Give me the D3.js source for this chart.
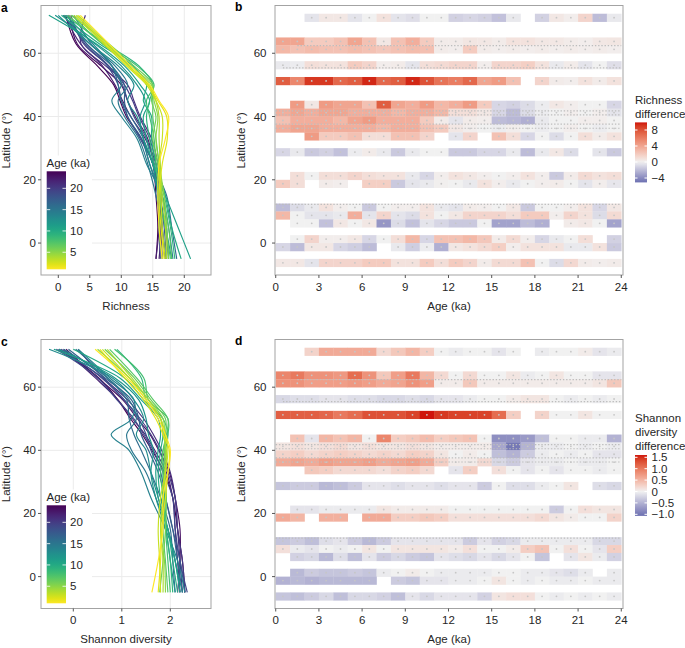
<!DOCTYPE html>
<html><head><meta charset="utf-8">
<script src="https://cdn.jsdelivr.net/npm/d3@7"></script>
<style>body{margin:0;background:#fff}svg{display:block}text{font-family:"Liberation Sans",Arial,Helvetica,sans-serif}</style>
</head><body><svg id="chart" width="685" height="648"></svg>
<script>
// ---------------- DATA ----------------
const ages = d3.range(1, 25); // ka
const latKnots = [-5, 5, 15, 25, 33, 40, 45, 50, 56, 63, 72];

const richness = [
 [16.5,16.0,15.8,16.0,17.0,17.5,16.0,14.5,11.5,8.0,3.5],
 [16.8,16.3,16.0,16.5,17.3,17.2,15.8,14.2,11.0,7.5,3.0],
 [17.0,16.5,16.3,16.0,16.5,16.5,15.5,14.0,10.8,7.2,2.5],
 [17.2,17.0,16.5,16.2,16.0,16.0,15.5,14.3,11.2,7.8,3.2],
 [17.5,17.2,16.8,16.0,15.5,15.8,15.2,14.8,11.5,7.5,2.8],
 [16.5,16.0,16.2,15.8,15.0,15.5,14.8,15.0,12.0,8.0,2.0],
 [18.0,17.5,16.5,16.0,15.5,15.0,15.0,14.5,11.5,7.0,1.5],
 [17.8,17.0,16.0,15.5,15.2,14.5,14.0,15.2,12.5,7.0,2.2],
 [18.5,17.8,16.8,15.2,14.5,14.0,14.5,15.0,12.8,7.5,1.0],
 [19.5,18.0,17.0,15.5,14.8,14.8,13.5,14.0,11.8,6.5,0.5],
 [21.0,19.0,17.0,15.0,14.0,13.5,14.5,13.0,10.5,6.0,-1.5],
 [18.0,17.0,15.8,15.0,13.5,13.0,13.8,12.5,10.0,5.8,-0.5],
 [17.5,17.2,16.5,14.5,13.5,12.5,11.0,12.0,9.5,5.0,0.0],
 [18.2,17.5,16.5,14.0,12.5,10.0,8.5,10.0,8.5,5.5,1.2],
 [17.0,16.5,15.5,14.2,12.8,10.5,9.5,11.0,9.0,5.0,0.8],
 [18.8,18.0,17.2,15.0,13.5,11.5,10.0,9.5,8.5,5.2,2.5],
 [17.5,17.0,16.0,14.5,13.2,11.0,10.5,10.5,8.5,4.5,1.5],
 [17.2,16.8,16.2,15.2,14.0,12.0,11.0,10.2,8.0,4.5,0.8],
 [16.2,16.0,15.8,15.0,13.0,11.0,10.0,9.5,7.8,4.2,1.5],
 [16.5,16.3,16.0,15.5,14.5,12.8,11.8,10.5,8.0,4.0,2.0],
 [17.0,16.5,16.3,15.8,14.8,13.0,12.0,11.0,7.5,3.6,4.3],
 [15.5,16.0,16.0,15.5,13.8,11.5,10.2,9.0,7.0,3.5,1.0],
 [16.0,16.3,16.0,15.2,14.2,12.2,11.0,10.0,6.8,3.0,1.8],
 [15.5,15.8,15.5,15.0,13.2,10.8,9.8,8.8,6.2,2.8,1.2]
];

const shannon = [
 [1.62,1.75,1.85,1.85,1.95,2.0,1.9,1.75,1.5,1.1,0.45],
 [1.75,1.8,1.82,1.9,1.95,1.98,1.85,1.7,1.45,1.05,0.55],
 [1.8,1.78,1.75,1.8,1.9,1.95,1.9,1.8,1.5,1.15,0.6],
 [1.85,1.85,1.8,1.85,1.9,1.92,1.85,1.8,1.55,1.2,0.7],
 [1.9,1.88,1.8,1.85,1.88,1.9,1.88,1.85,1.55,1.15,0.5],
 [1.78,1.85,1.9,1.92,1.9,1.88,1.9,1.9,1.6,1.25,0.65],
 [1.95,1.9,1.85,1.9,1.85,1.85,1.92,1.95,1.65,1.3,0.75],
 [2.0,1.95,1.9,1.85,1.8,1.85,1.95,1.95,1.55,1.45,0.85],
 [2.05,2.0,1.92,1.88,1.85,1.9,1.95,1.85,1.5,1.4,0.9],
 [2.15,2.05,1.95,1.8,1.75,1.8,1.85,1.8,1.45,1.05,0.0],
 [2.2,2.1,1.95,1.75,1.7,1.75,1.8,1.75,1.4,0.95,-0.4],
 [2.1,2.0,1.9,1.7,1.6,1.65,1.55,1.5,1.35,0.85,-0.3],
 [2.25,2.1,1.95,1.75,1.6,1.5,1.3,1.45,1.25,0.8,-0.5],
 [2.3,2.15,1.9,1.6,1.4,1.15,0.78,1.2,1.25,0.75,0.1],
 [2.2,2.1,1.95,1.7,1.5,1.2,1.1,1.3,1.15,0.7,-0.2],
 [2.1,2.05,2.0,1.8,1.6,1.4,1.25,1.15,1.1,0.7,0.05],
 [2.25,2.15,2.05,1.9,1.75,1.55,1.4,1.35,1.2,0.65,-0.1],
 [2.3,2.2,2.05,1.9,1.8,1.6,1.5,1.35,1.05,0.6,-0.3],
 [2.35,2.2,2.1,2.05,1.85,1.65,1.45,1.25,0.9,0.5,-0.35],
 [2.3,2.25,2.15,2.1,1.95,1.78,1.6,1.38,1.05,0.58,-0.25],
 [2.25,2.2,2.15,2.1,2.0,1.82,1.65,1.45,1.12,0.62,0.1],
 [2.2,2.15,2.1,2.05,1.92,1.68,1.48,1.22,0.92,0.45,-0.2],
 [2.15,2.2,2.2,2.1,1.98,1.76,1.58,1.32,1.02,0.5,-0.15],
 [2.3,2.25,2.15,2.05,1.88,1.62,1.42,1.18,0.92,0.52,-0.3]
];

// latitude bands (lower edge, 2.5 degrees tall) and ages 0..24 ka (1 ka bins)
const bandLower = [70, 62.5, 60, 55, 50, 42.5, 40, 37.5, 35, 32.5, 27.5, 20, 17.5, 10, 7.5, 5, 0, -2.5, -7.5];
const ageBins = d3.range(0, 24);
const N = null;

const richDiff = [
 [N,N,-0.5,0.5,0.5,-0.5,0,0.8,-0.5,-0.7,0,0,-1.2,-1,-1.2,-1.8,-0.3,N,-1.2,0.5,0.2,1.5,-2,-0.3],
 [4,4,2,2,2.5,4,2.5,0.5,2.5,3.5,2,0.3,0.3,0.6,0.5,0.3,0.8,0.8,0.5,0.5,0.3,0.2,0.5,0.6],
 [3,2.5,2.8,2.5,2.5,2.8,2.5,2.2,2.5,2.8,2.6,0.3,0.2,2.0,0.3,0.2,0.3,0.2,0.3,0.2,0.3,0.2,0.3,0.2],
 [-0.3,-0.2,1,0.8,0.8,2,1.5,0.2,0.3,-0.5,1,1.2,1.5,1.5,0.2,1.5,1.5,1.8,0.8,-0.3,0.3,-0.5,0,-0.7],
 [7.5,5.5,9,9,7,7.5,9.5,7,7.5,9.5,8,6.5,6,7,4,4.5,2.5,N,1.5,0.3,0.2,0.8,0.3,0.8],
 [N,4.5,0.5,4.5,4,4,2.5,7.5,4,3.5,4.5,3,3.5,4.5,2,-1,-1.2,-0.8,-0.2,0.5,0.2,0,0,-1],
 [3.5,4,3.5,4,4,3.5,3.5,3.5,3,3.5,3.5,3,1,1,0.5,-1,-2,-0.8,-0.2,0,0.2,0,0.2,-0.5],
 [2.5,3.5,3.5,3.5,3,4,4.5,3.5,3.5,3.5,2,0.3,-0.5,0.3,0.2,-2,-2.2,-2.5,-0.3,0,0,0.2,0.2,0],
 [3.5,4,4,3.5,3.5,3.5,3.5,3,3.5,3.5,2.5,2,0.5,0.2,0,-0.2,0.2,0,-0.2,0,0.2,0,-0.2,0],
 [N,N,4.5,2,2,2.5,1,1,2.5,2.5,1.5,N,-0.5,1.5,N,2.5,1,-1,0,-0.8,0,1,0.3,0.8],
 [-1,-0.3,-1.5,-1.2,-1.8,-0.2,0.3,-0.3,-1.5,-0.3,0,0,-1.5,-1.5,-1,-1,-0.3,-2,-0.3,0.5,-0.8,N,-0.5,-1.5],
 [N,1,0,1,1,1.5,1,0.8,0.8,-0.3,-1,0.2,0.8,0.5,0.2,0,0.2,0.8,0.2,-1.5,0.3,1.2,0.8,1],
 [2,1,N,0.3,0.2,N,1.8,1.8,-1.5,-0.5,-0.3,0.1,0,-0.3,0.8,0.2,-0.3,0,0.2,0.3,0,-0.5,0.2,-0.4],
 [-2,-0.8,-0.3,0.8,0.2,0,-1.5,0,0.2,0.2,0.8,-0.3,-0.5,0.3,0.2,0,0.5,-1.5,0,0,0.2,0.8,-1,0.5],
 [3,0,-0.5,-0.5,-0.3,3.5,-0.5,1.5,-0.5,-0.8,0.8,0,0.5,1.5,1.5,1.5,1,2,2,0.2,1.5,0.8,-0.8,1.2],
 [N,0,0,-1.8,0.5,0,0.5,-3.5,-0.8,-1.8,-0.5,-1,-1.5,-1.5,0,-3,-3,-2,-2.5,N,0.3,0.5,0,-3],
 [N,0,1.5,0.2,0.2,0.5,-1,0,1,3,-1,2.5,2.5,3,2.2,0.3,1.2,0.2,-1,-0.3,0,1,N,-1.2],
 [-1,-2,0.5,0.5,-1,-1.3,-2,N,-0.3,-1.3,-0.2,-2.5,0.5,0.8,1.2,1.8,0.2,0.8,0.8,0.8,-0.3,-0.3,0.8,-1.5],
 [0.5,0.5,-0.5,1.5,1.5,1.5,2,2,0.8,0.8,2,1,2,1.5,0.3,1.2,1.2,2.5,0,-0.8,1.3,0.3,0.2,0.3]
];

const shanDiff = [
 [N,N,0.25,0.6,0.6,0.6,0.6,0.2,0.35,0.5,0.3,0,-0.05,0,0,-0.1,0,N,-0.05,0,0,0.05,-0.1,-0.05],
 [0.9,1.0,0.8,0.8,0.75,1.1,0.8,0.35,0.7,1.0,0.5,0.2,0,0.2,0,0,0.1,-0.05,0,0.1,0,0,-0.1,-0.1],
 [0.8,0.8,0.7,0.7,0.7,0.75,0.7,0.6,0.65,0.8,0.7,0.05,0.05,0.35,0.05,0.05,0.05,0.05,0.05,0.05,0.05,0.05,0.1,0.35],
 [-0.2,-0.15,-0.15,-0.1,-0.1,-0.15,-0.15,-0.2,-0.2,-0.15,-0.2,-0.1,-0.1,-0.05,0,0,0.05,0.1,0.1,0,-0.05,0,-0.05,0],
 [1.2,1.2,1.2,1.15,1.0,1.1,1.3,1.3,1.3,1.4,1.6,1.45,1.4,1.4,1.4,1.1,0.3,N,0.25,0,0,0.1,0,0],
 [N,0.4,-0.1,0.5,0.4,0.5,0,0.9,0.3,0.35,0.45,0.3,0.35,0.4,0,-0.8,-0.8,-0.7,-0.4,0,0,-0.05,-0.05,-0.5],
 [0.1,0.15,0.1,0.15,0.2,0.1,0.15,0.1,0.1,0.15,0.1,0.05,0.05,0.05,0.05,-0.6,-1.0,-0.5,-0.05,-0.05,0,-0.05,0,-0.05],
 [0.25,0.3,0.2,0.25,0.3,0.25,0.2,0.25,0.2,0.3,0.25,0.1,0,0.05,0,-0.4,-0.5,-0.3,-0.05,0,-0.05,0,-0.1,-0.1],
 [0.6,0.65,0.6,0.7,0.65,0.65,0.7,0.6,0.65,0.7,0.6,0.3,0.05,0.05,0.2,-0.2,-0.3,-0.1,-0.05,-0.05,0,-0.05,-0.05,0],
 [N,N,0.35,0.3,0.2,0.2,0.2,0.15,0.25,0.3,0.2,N,-0.1,0.3,N,0.15,0,-0.1,0,-0.1,0,0,-0.05,0],
 [-0.35,-0.3,-0.3,-0.45,-0.4,-0.3,-0.1,-0.1,-0.15,-0.1,-0.1,-0.15,-0.1,-0.1,-0.3,0,-0.15,-0.15,-0.05,0,0.1,N,-0.15,-0.2],
 [N,-0.1,-0.1,-0.05,-0.05,-0.05,-0.05,0.1,0.05,0.05,0.05,0.05,0,0,0,0,0,0,0,-0.3,0,0.15,0.1,0.1],
 [0.6,0.5,N,0.55,0.55,N,0.6,0.6,0.3,0.3,0.35,0.3,0.15,0.15,0.15,0.15,0.15,0.15,0.2,0.1,0.05,0,0,0.25],
 [-0.35,-0.3,-0.4,-0.15,-0.1,-0.3,-0.45,-0.3,-0.1,-0.1,-0.1,-0.1,-0.1,-0.3,-0.1,-0.25,-0.2,-0.05,-0.05,-0.05,-0.05,-0.05,-0.2,-0.2],
 [0.15,-0.05,-0.1,0,-0.05,0,0.1,0,0.1,0.1,0.1,0.1,0.05,0.15,0,0,0.05,0.3,0.4,0,0.15,0,-0.1,0.3],
 [N,-0.25,-0.2,-0.45,-0.15,-0.4,-0.1,-0.3,-0.2,-0.3,-0.35,-0.1,-0.15,-0.2,-0.1,-0.2,-0.1,0,-0.35,N,-0.1,0.1,-0.05,-0.25],
 [N,-0.45,-0.3,-0.35,-0.35,-0.3,-0.35,-0.05,0,0.05,0,-0.05,-0.05,-0.05,-0.05,0,0,-0.05,-0.05,-0.1,-0.15,-0.05,N,-0.05],
 [-0.5,-0.45,-0.5,-0.45,-0.45,-0.45,-0.45,N,-0.3,-0.35,-0.1,-0.1,-0.05,-0.05,0,0.1,0,-0.05,0,-0.05,-0.05,0,-0.05,-0.05],
 [-0.35,-0.4,-0.3,-0.2,-0.4,-0.2,-0.2,-0.25,-0.4,-0.1,-0.2,-0.1,-0.1,-0.1,-0.25,0.1,0.15,0.15,0,-0.05,0,-0.05,0,-0.05]
];

// densely sampled sites: [latitude, first age, last age]
const denseSites = [[62.4,1.5,24],[55.4,0.5,24],[41.8,0,24],[40.5,0,24],[37.6,0,24],[36.3,0,24],[12.2,0,24]];

const latTicks = [0, 20, 40, 60];
const richTicks = [0, 5, 10, 15, 20];
const shanTicks = [0, 1, 2];
const ageTicks = [0, 3, 6, 9, 12, 15, 18, 21, 24];
const ageLegendTicks = [5, 10, 15, 20];
const richLegendTicks = [8, 4, 0, -4];
const richLegendLabels = ["8", "4", "0", "\u22124"];
const shanLegendTicks = [1.5, 1.0, 0.5, 0, -0.5, -1.0];
const shanLegendLabels = ["1.5", "1.0", "0.5", "0", "\u22120.5", "\u22121.0"];

// ---------------- DRAWING ----------------
const svg = d3.select("#chart");
const FS = 11.5;
const TXT = "#262626";
const FRAME = "#A3A3A3";
const GRID = "#EBEBEB";
const TICK = "#555";

const latDomain = [-10.1, 75.1];
const ageColor = a => d3.interpolateViridis(1 - (a - 1) / 23);
const richColor = d3.scaleLinear().domain([-5.1, 0, 9.9]).range(["#6C70B1", "#F1F1F1", "#CF140B"]).interpolate(d3.interpolateLab);
const shanColor = d3.scaleLinear().domain([-1.07, 0, 1.6]).range(["#6C70B1", "#F1F1F1", "#CF140B"]).interpolate(d3.interpolateLab);

function txt(g, x, y, s, opt = {}) {
  return g.append("text").attr("x", x).attr("y", y).text(s)
    .attr("font-size", opt.size || FS).attr("fill", opt.fill || TXT)
    .attr("text-anchor", opt.anchor || "start")
    .attr("font-weight", opt.weight || "normal");
}

function axes(g, x, y, xt, yt, L, R, T, B, xFmt, yPad) {
  latTicks.forEach(v => {
    const yy = y(v);
    g.append("line").attr("x1", L - 3).attr("x2", L).attr("y1", yy).attr("y2", yy).attr("stroke", TICK);
    txt(g, L - 3 - yPad, yy + 4, String(v), {anchor: "end"});
  });
  xt.forEach(v => {
    const xx = x(v);
    g.append("line").attr("x1", xx).attr("x2", xx).attr("y1", B).attr("y2", B + 3).attr("stroke", TICK);
    txt(g, xx, B + 15.5, xFmt(v), {anchor: "middle"});
  });
}

function frame(g, L, R, T, B) {
  g.append("rect").attr("x", L).attr("y", T).attr("width", R - L).attr("height", B - T)
    .attr("fill", "none").attr("stroke", FRAME).attr("stroke-width", 1);
}

function vGradient(id, colorFn, vTop, vBot) {
  let defs = svg.select("defs");
  if (defs.empty()) defs = svg.append("defs");
  const lg = defs.append("linearGradient").attr("id", id).attr("x1", 0).attr("x2", 0).attr("y1", 0).attr("y2", 1);
  d3.range(0, 21).forEach(i => {
    const t = i / 20;
    lg.append("stop").attr("offset", t).attr("stop-color", colorFn(vTop + (vBot - vTop) * t));
  });
}

function linePanel(opt) {
  const {L, R, T, B, xDomain, data, xt, xTitle, label, gid} = opt;
  const g = svg.append("g");
  const x = d3.scaleLinear().domain(xDomain).range([L, R]);
  const y = d3.scaleLinear().domain(latDomain).range([B, T]);
  // grid
  xt.forEach(v => g.append("line").attr("x1", x(v)).attr("x2", x(v)).attr("y1", T).attr("y2", B).attr("stroke", GRID));
  latTicks.forEach(v => g.append("line").attr("x1", L).attr("x2", R).attr("y1", y(v)).attr("y2", y(v)).attr("stroke", GRID));
  // lines (oldest drawn first)
  const line = d3.line().x(d => x(d[0])).y(d => y(d[1])).curve(d3.curveCatmullRom.alpha(0.5));
  const order = ages.map((a, i) => i).reverse();
  order.forEach(i => {
    const a = ages[i];
    const pts = latKnots.map((lat, j) => [data[i][j], lat]);
    g.append("path").attr("d", line(pts)).attr("fill", "none")
      .attr("stroke", ageColor(a)).attr("stroke-width", 1.15);
  });
  // legend
  const lt = T + 150;
  g.append("rect").attr("x", L + 1).attr("y", lt).attr("width", 50).attr("height", B - lt - 1).attr("fill", "#fff");
  txt(g, L + 5.5, lt + 11.5, "Age (ka)");
  const bT = lt + 15.8, bB = bT + 98, bL = L + 5.7, bR = L + 25;
  vGradient(gid, ageColor, 24, 1);
  g.append("rect").attr("x", bL).attr("y", bT).attr("width", bR - bL).attr("height", bB - bT).attr("fill", `url(#${gid})`);
  const ly = d3.scaleLinear().domain([24, 1]).range([bT, bB]);
  ageLegendTicks.forEach(v => {
    g.append("line").attr("x1", bL).attr("x2", bL + 3.5).attr("y1", ly(v)).attr("y2", ly(v)).attr("stroke", "#fff").attr("stroke-opacity", 0.8);
    g.append("line").attr("x1", bR - 3.5).attr("x2", bR).attr("y1", ly(v)).attr("y2", ly(v)).attr("stroke", "#fff").attr("stroke-opacity", 0.8);
    txt(g, bR + 4, ly(v) + 4, String(v));
  });
  frame(g, L, R, T, B);
  axes(g, x, y, xt, latTicks, L, R, T, B, v => String(v), 2);
  txt(g, (L + R) / 2, B + 34.5, xTitle, {anchor: "middle"});
  g.append("text").attr("transform", `translate(10,${(T + B) / 2}) rotate(-90)`)
    .attr("text-anchor", "middle").attr("font-size", FS).attr("fill", TXT).text("Latitude (\u00B0)");
  txt(g, 1, T + 6, label, {weight: "bold", size: 12, fill: "#000"});
}

function heatPanel(opt) {
  const {L, R, T, B, data, color, title, lt, lTicks, lLabels, lDom, label, gid, lLineH} = opt;
  const g = svg.append("g");
  const x = d3.scaleLinear().domain([-0.05, 24.12]).range([L, R]);
  const y = d3.scaleLinear().domain(latDomain).range([B, T]);
  bandLower.forEach((lat, r) => {
    ageBins.forEach((a, c) => {
      const v = data[r][c];
      if (v === null) return;
      g.append("rect").attr("x", x(a)).attr("y", y(lat + 2.5))
        .attr("width", x(a + 1) - x(a) + 0.3).attr("height", y(lat) - y(lat + 2.5) + 0.3)
        .attr("fill", color(v));
    });
  });
  // sample points
  denseSites.forEach(s => {
    g.append("line").attr("x1", x(s[1])).attr("x2", x(s[2])).attr("y1", y(s[0])).attr("y2", y(s[0]))
      .attr("stroke", "#BDBDBD").attr("stroke-width", 1.2).attr("stroke-dasharray", "1.4,1.8");
  });
  bandLower.forEach((lat, r) => {
    ageBins.forEach((a, c) => {
      if (data[r][c] === null) return;
      g.append("circle").attr("cx", x(a + 0.5)).attr("cy", y(lat + 1.25)).attr("r", 0.9).attr("fill", "#C6C6C6");
    });
  });
  frame(g, L, R, T, B);
  axes(g, x, y, ageTicks, latTicks, L, R, T, B, v => String(v), 5.5);
  txt(g, (L + R) / 2, B + 34.5, "Age (ka)", {anchor: "middle"});
  g.append("text").attr("transform", `translate(245,${(T + B) / 2}) rotate(-90)`)
    .attr("text-anchor", "middle").attr("font-size", FS).attr("fill", TXT).text("Latitude (\u00B0)");
  txt(g, 235, T + 5, label, {weight: "bold", size: 12, fill: "#000"});
  // legend
  title.forEach((s, i) => txt(g, 635, lt + i * lLineH, s));
  const ly = d3.scaleLinear().domain(lDom.map(d => d.v)).range(lDom.map(d => d.y));
  const vTop = opt.vRange[1], vBot = opt.vRange[0];
  vGradient(gid, color, vTop, vBot);
  const bL = 635, bR = 647;
  g.append("rect").attr("x", bL).attr("y", ly(vTop)).attr("width", bR - bL).attr("height", ly(vBot) - ly(vTop)).attr("fill", `url(#${gid})`);
  lTicks.forEach((v, i) => {
    g.append("line").attr("x1", bL).attr("x2", bL + 2.5).attr("y1", ly(v)).attr("y2", ly(v)).attr("stroke", "#fff");
    g.append("line").attr("x1", bR - 2.5).attr("x2", bR).attr("y1", ly(v)).attr("y2", ly(v)).attr("stroke", "#fff");
    txt(g, 651.5, ly(v) + 4, lLabels[i]);
  });
}

linePanel({L: 41, R: 211, T: 5.5, B: 275, xDomain: [-2.746, 24.24], data: richness, xt: richTicks, xTitle: "Richness", label: "a", gid: "ageA"});
linePanel({L: 41, R: 211, T: 339.5, B: 608.5, xDomain: [-0.666, 2.839], data: shannon, xt: shanTicks, xTitle: "Shannon diversity", label: "c", gid: "ageC"});

heatPanel({L: 275, R: 623, T: 5.5, B: 275, data: richDiff, color: richColor, title: ["Richness", "difference"], lt: 103.5, lLineH: 14,
  lTicks: richLegendTicks, lLabels: richLegendLabels, lDom: [{v: 8, y: 130}, {v: -4, y: 178}], vRange: [-5.1, 9.9], label: "b", gid: "gb"});
heatPanel({L: 275, R: 623, T: 339.5, B: 608.5, data: shanDiff, color: shanColor, title: ["Shannon", "diversity", "difference"], lt: 422, lLineH: 14,
  lTicks: shanLegendTicks, lLabels: shanLegendLabels, lDom: [{v: 1.5, y: 457.3}, {v: -1.0, y: 514.3}], vRange: [-1.07, 1.6], label: "d", gid: "gd"});
</script></body></html>
